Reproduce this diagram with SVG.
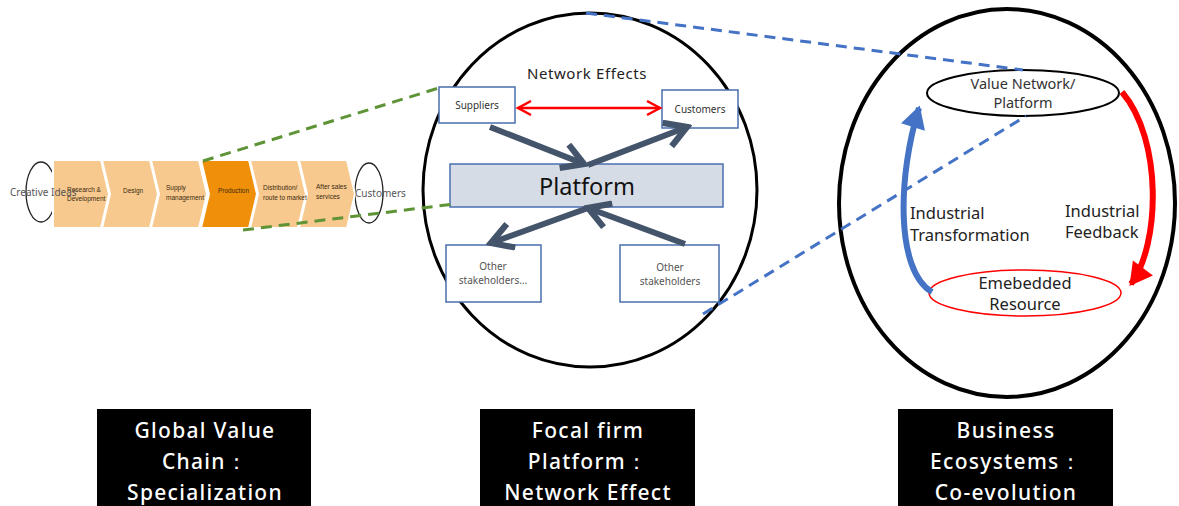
<svg xmlns="http://www.w3.org/2000/svg" width="1179" height="506" viewBox="0 0 1179 506">
  <defs>
    <style>
      .sans { font-family: "Noto Sans", "Open Sans", "DejaVu Sans", sans-serif; }
      .chev { fill: #F8C98E; stroke: #ffffff; stroke-width: 2; }
      .chev-hi { fill: #F0900A; stroke: #ffffff; stroke-width: 2; }
      .chev-txt { font-family: "Liberation Sans Narrow", "Liberation Sans", sans-serif; font-size: 6.5px; fill: #3a2a10; }
      .box { fill: #ffffff; stroke: #4A6FB0; stroke-width: 1.5; }
      .small { font-size: 10px; fill: #333333; }
      .gray { font-size: 10px; fill: #555555; }
      .big-arrow { fill: none; stroke: #44546A; stroke-width: 6; }
      .dash-green { fill: none; stroke: #5E9436; stroke-width: 3; stroke-dasharray: 11 7; }
      .dash-blue { fill: none; stroke: #4472C4; stroke-width: 3; stroke-dasharray: 11 7; }
      .label-box { fill: #000000; }
      .label-txt { font-size: 21px; font-weight: 500; letter-spacing: 1.3px; fill: #ffffff; text-anchor: middle; }
      .eco-txt { font-size: 16.5px; fill: #222222; }
    </style>
    <marker id="openHead" markerUnits="userSpaceOnUse" markerWidth="30" markerHeight="30" viewBox="-20 -12 24 24" refX="0" refY="0" orient="auto">
      <path d="M -17 -10 L 0 0 L -17 10" fill="none" stroke="#44546A" stroke-width="5"/>
    </marker>
    <marker id="redHead" markerUnits="userSpaceOnUse" markerWidth="20" markerHeight="20" viewBox="-16 -10 20 20" refX="0" refY="0" orient="auto-start-reverse">
      <path d="M -13 -7 L 0 0 L -13 7" fill="none" stroke="#FF0000" stroke-width="2.5"/>
    </marker>
    <marker id="blueFill" markerUnits="userSpaceOnUse" markerWidth="30" markerHeight="30" viewBox="-20 -12 24 24" refX="0" refY="0" orient="auto">
      <path d="M -16 -10 L 2 0 L -16 10 Z" fill="#4472C4"/>
    </marker>
    <marker id="redFill" markerUnits="userSpaceOnUse" markerWidth="30" markerHeight="30" viewBox="-20 -12 24 24" refX="0" refY="0" orient="auto">
      <path d="M -16 -10 L 2 0 L -16 10 Z" fill="#FF0000"/>
    </marker>
  </defs>

  <rect width="1179" height="506" fill="#ffffff"/>

  <!-- End loops of the chain, partly hidden behind the chevrons -->
  <g id="creative-ideas">
    <ellipse cx="41" cy="192" rx="15" ry="30" fill="none" stroke="#222222" stroke-width="1.3"/>
  </g>
  <g id="customers-end">
    <ellipse cx="369" cy="193" rx="14" ry="30" fill="none" stroke="#222222" stroke-width="1.3"/>
  </g>

  <!-- Global value chain -->
  <g id="value-chain">
    <polygon class="chev" points="53,160 101,160 109,194 101,228 53,228"/>
    <polygon class="chev" points="102,160 150,160 158,194 150,228 102,228 110,194"/>
    <polygon class="chev" points="151,160 199,160 207,194 199,228 151,228 159,194"/>
    <polygon class="chev-hi" points="201,160 249,160 257,194 249,228 201,228 209,194"/>
    <polygon class="chev" points="250,160 298,160 306,194 298,228 250,228 258,194"/>
    <polygon class="chev" points="299,160 347,160 355,194 347,228 299,228 307,194"/>
    <text class="chev-txt" x="67" y="192">Research &amp;</text>
    <text class="chev-txt" x="67" y="201">Development</text>
    <text class="chev-txt" x="123" y="193">Design</text>
    <text class="chev-txt" x="166" y="190">Supply</text>
    <text class="chev-txt" x="166" y="200">management</text>
    <text class="chev-txt" x="218" y="193">Production</text>
    <text class="chev-txt" x="263" y="190">Distribution/</text>
    <text class="chev-txt" x="263" y="200">route to market</text>
    <text class="chev-txt" x="316" y="189">After sales</text>
    <text class="chev-txt" x="316" y="199">services</text>
  </g>
  <text class="sans gray" x="10" y="196">Creative  Ideas</text>
  <text class="sans gray" x="355" y="197">Customers</text>

  <!-- Focal firm platform -->
  <g id="platform-circle">
    <ellipse cx="590" cy="190" rx="167" ry="177" fill="none" stroke="#000000" stroke-width="3"/>
    <text class="sans" x="587" y="79" font-size="15" letter-spacing="0.6" text-anchor="middle" fill="#222222">Network  Effects</text>
  </g>
  <g id="suppliers">
    <rect class="box" x="439" y="87" width="76" height="36"/>
    <text class="sans small" x="477" y="109" text-anchor="middle">Suppliers</text>
  </g>
  <g id="customers">
    <rect class="box" x="662" y="90" width="76" height="38"/>
    <text class="sans small" x="700" y="113" text-anchor="middle">Customers</text>
  </g>
  <g id="platform">
    <rect x="450" y="164" width="273" height="43" fill="#D6DCE5" stroke="#4A6FB0" stroke-width="1.5"/>
    <text class="sans" x="587" y="195" font-size="23.5" text-anchor="middle" fill="#111111">Platform</text>
  </g>
  <g id="stakeholders-left">
    <rect class="box" x="446" y="245" width="95" height="57"/>
    <text class="sans gray" x="493" y="270" text-anchor="middle">Other</text>
    <text class="sans gray" x="493" y="284" text-anchor="middle">stakeholders…</text>
  </g>
  <g id="stakeholders-right">
    <rect class="box" x="620" y="245" width="99" height="57"/>
    <text class="sans gray" x="670" y="271" text-anchor="middle">Other</text>
    <text class="sans gray" x="670" y="285" text-anchor="middle">stakeholders</text>
  </g>

  <!-- Business ecosystem -->
  <g id="ecosystem-circle">
    <ellipse cx="1007" cy="203" rx="168" ry="194" fill="none" stroke="#000000" stroke-width="4"/>
  </g>
  <g id="value-network">
    <ellipse cx="1023" cy="93" rx="96" ry="23" fill="#ffffff" stroke="#000000" stroke-width="2"/>
    <text class="sans" x="1023" y="89" font-size="14.5" text-anchor="middle" fill="#333333">Value Network/</text>
    <text class="sans" x="1023" y="108" font-size="14.5" text-anchor="middle" fill="#333333">Platform</text>
  </g>
  <g id="embedded-resource">
    <ellipse cx="1025" cy="293" rx="96" ry="23" fill="#ffffff" stroke="#FF0000" stroke-width="1.5"/>
    <text class="sans" x="1025" y="289" font-size="16.5" text-anchor="middle" fill="#222222">Emebedded</text>
    <text class="sans" x="1025" y="310" font-size="16.5" text-anchor="middle" fill="#222222">Resource</text>
  </g>

  <!-- Connectors -->
  <g id="connectors">
    <line class="dash-green" x1="203" y1="161" x2="442" y2="87"/>
    <line class="dash-green" x1="243" y1="230" x2="454" y2="204"/>
    <line class="dash-blue" x1="586" y1="13" x2="1023" y2="70"/>
    <line class="dash-blue" x1="703" y1="314" x2="1026" y2="116"/>

    <line x1="518" y1="108" x2="660" y2="108" stroke="#FF0000" stroke-width="2.5" marker-start="url(#redHead)" marker-end="url(#redHead)"/>

    <line class="big-arrow" x1="490" y1="127" x2="584" y2="164" marker-end="url(#openHead)"/>
    <line class="big-arrow" x1="588" y1="165" x2="687" y2="127" marker-end="url(#openHead)"/>
    <line class="big-arrow" x1="588" y1="208" x2="491" y2="243" marker-end="url(#openHead)"/>
    <line class="big-arrow" x1="685" y1="244" x2="588" y2="208" marker-end="url(#openHead)"/>

    <path d="M 932 292 C 895 270, 898 175, 919 108" fill="none" stroke="#4472C4" stroke-width="6" marker-end="url(#blueFill)"/>
    <path d="M 1122 92 C 1163 140, 1160 245, 1131 284" fill="none" stroke="#FF0000" stroke-width="6" marker-end="url(#redFill)"/>

    <text class="sans eco-txt" x="910" y="219">Industrial</text>
    <text class="sans eco-txt" x="910" y="241">Transformation</text>
    <text class="sans eco-txt" x="1065" y="217">Industrial</text>
    <text class="sans eco-txt" x="1065" y="238">Feedback</text>
  </g>

  <!-- Section labels -->
  <g id="label-gvc">
    <rect class="label-box" x="97" y="409" width="214" height="97"/>
    <text class="sans label-txt" x="205" y="438">Global Value</text>
    <text class="sans label-txt" x="205" y="469">Chain：</text>
    <text class="sans label-txt" x="205" y="500">Specialization</text>
  </g>
  <g id="label-platform">
    <rect class="label-box" x="480" y="409" width="215" height="97"/>
    <text class="sans label-txt" x="588" y="438">Focal firm</text>
    <text class="sans label-txt" x="588" y="469">Platform：</text>
    <text class="sans label-txt" x="588" y="500">Network Effect</text>
  </g>
  <g id="label-ecosystem">
    <rect class="label-box" x="898" y="409" width="215" height="97"/>
    <text class="sans label-txt" x="1006" y="438">Business</text>
    <text class="sans label-txt" x="1006" y="469">Ecosystems：</text>
    <text class="sans label-txt" x="1006" y="500">Co-evolution</text>
  </g>
</svg>
